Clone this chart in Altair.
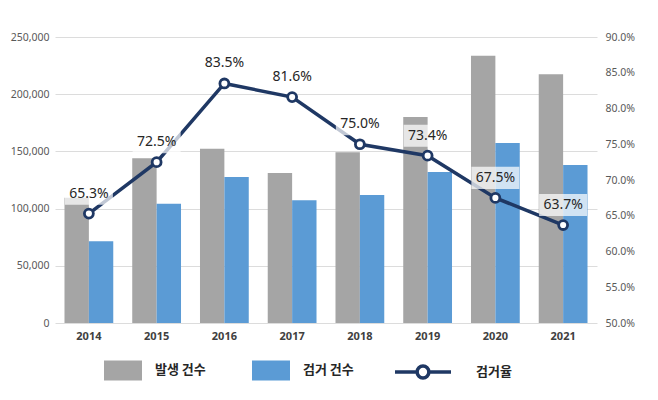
import altair as alt
import pandas as pd

years = ["2014", "2015", "2016", "2017", "2018", "2019", "2020", "2021"]
occurred = [109500, 144000, 152400, 131100, 149200, 180000, 233700, 217400]
arrested = [71400, 104300, 127600, 107200, 111900, 132000, 157300, 138100]
rate = [65.3, 72.5, 83.5, 81.6, 75.0, 73.4, 67.5, 63.7]

bar_series = ["발생 건수", "검거 건수"]
bar_colors = ["#a5a5a5", "#5b9bd5"]
line_series = "검거율"
line_color = "#1f3864"
FONT = "Noto Sans CJK KR"
NUM_FONT = "Noto Sans"

bars_df = pd.DataFrame(
    [{"year": y, "series": bar_series[0], "value": v} for y, v in zip(years, occurred)]
    + [{"year": y, "series": bar_series[1], "value": v} for y, v in zip(years, arrested)]
)
line_df = pd.DataFrame({
    "year": years,
    "rate": rate,
    "series": [line_series] * len(years),
    "label": [f"{r:.1f}%" for r in rate],
})

x_enc = alt.X(
    "year:N",
    sort=years,
    scale=alt.Scale(paddingInner=0.28, paddingOuter=0.14),
    axis=alt.Axis(
        title=None, labelAngle=0, domain=False, ticks=False, labelPadding=7,
        labelFontSize=11, labelFontWeight="bold", labelColor="#404040", labelFont=NUM_FONT,
    ),
)

bars = alt.Chart(bars_df).mark_bar().encode(
    x=x_enc,
    xOffset=alt.XOffset("series:N", sort=bar_series, scale=alt.Scale(domain=bar_series, paddingInner=0)),
    y=alt.Y(
        "value:Q",
        scale=alt.Scale(domain=[0, 250000], nice=False),
        axis=alt.Axis(
            title=None, orient="left", values=[0, 50000, 100000, 150000, 200000, 250000],
            format=",d", domain=False, ticks=False, grid=True, gridColor="#dcdcdc",
            labelFontSize=10.5, labelColor="#595959", labelPadding=6, labelFont=NUM_FONT,
        ),
    ),
    color=alt.Color(
        "series:N",
        sort=bar_series,
        scale=alt.Scale(domain=bar_series, range=bar_colors),
        legend=alt.Legend(
            title=None, orient="none", legendX=49, legendY=314, direction="horizontal",
            symbolType="M-1,-0.53H1V0.53H-1Z", symbolSize=1444, symbolStrokeWidth=0,
            labelOffset=13, columnPadding=46, labelFontSize=13, labelColor="#262626",
            labelFont=FONT, labelFontWeight="bold", padding=0,
        ),
    ),
)

y_rate = alt.Y(
    "rate:Q",
    scale=alt.Scale(domain=[50, 90], nice=False),
    axis=alt.Axis(
        title=None, orient="right", values=[50, 55, 60, 65, 70, 75, 80, 85, 90],
        labelExpr="format(datum.value, '.1f') + '%'", domain=False, ticks=False, grid=False,
        labelFontSize=10.5, labelColor="#595959", labelPadding=8, labelFont=NUM_FONT,
    ),
)

stroke_enc = alt.Stroke(
    "series:N",
    scale=alt.Scale(domain=[line_series], range=[line_color]),
    legend=alt.Legend(
        title=None, orient="none", legendX=338, legendY=305, direction="horizontal",
        symbolType="M-1,0H-0.21M0.21,0H1M0.21,0A0.21,0.21,0,1,1,-0.21,0A0.21,0.21,0,1,1,0.21,0",
        symbolSize=3136, symbolStrokeWidth=3.5, symbolFillColor="white",
        labelOffset=23, labelFontSize=13, labelColor="#262626", labelFont=FONT,
        labelFontWeight="bold", padding=0,
    ),
)

line = alt.Chart(line_df).mark_line(strokeWidth=3.5).encode(x=x_enc, y=y_rate, stroke=stroke_enc)

boxes = alt.Chart(line_df).mark_point(
    shape="M-1,-0.46H1V0.46H-1Z", size=2304, filled=True, fill="white",
    opacity=0.72, strokeWidth=0, yOffset=-20,
).encode(x=x_enc, y=y_rate)

texts = alt.Chart(line_df).mark_text(
    dy=-20, fontSize=14, color="#262626", font=NUM_FONT,
).encode(x=x_enc, y=y_rate, text="label:N")

points = alt.Chart(line_df).mark_point(
    filled=True, fill="white", size=80, strokeWidth=2.8, opacity=1,
).encode(x=x_enc, y=y_rate, stroke=stroke_enc)

rate_layer = alt.layer(line, boxes, texts, points)

chart = alt.layer(bars, rate_layer).resolve_scale(
    y="independent", color="independent", stroke="independent"
).properties(
    width=542, height=286,
    autosize=alt.AutoSizeParams(type="none"),
    padding={"left": 47, "top": 29, "right": 53, "bottom": 69},
).configure(font=FONT).configure_view(stroke=None)

chart.save("out.html", embed_options={"renderer": "svg", "actions": False})
